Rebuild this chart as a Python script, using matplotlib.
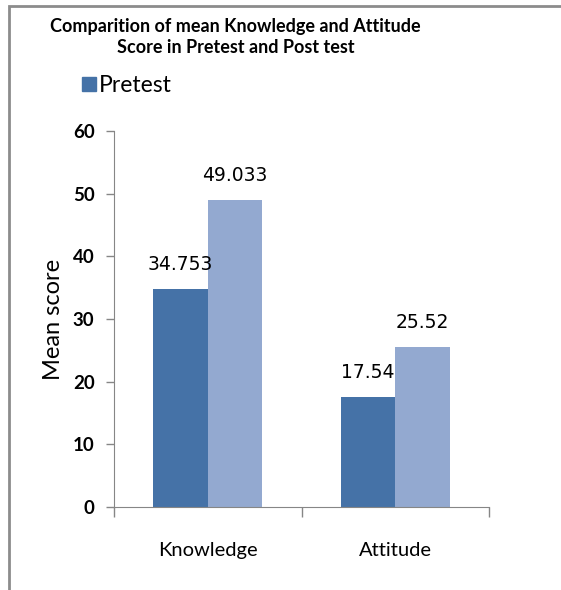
import numpy as np
import matplotlib.pyplot as plt
from matplotlib.patches import Rectangle

categories = ['Knowledge', 'Attitude']
pretest = [34.753, 17.54]
posttest = [49.033, 25.52]
pre_labels = ['34.753', '17.54']
post_labels = ['49.033', '25.52']

plt.rcParams['font.family'] = ['Lato', 'DejaVu Sans']

fig = plt.figure(figsize=(5.61, 5.90), dpi=100)
ax = fig.add_axes([0.2032, 0.1407, 0.6685, 0.637])

x = np.arange(len(categories))
w = 0.29
c_pre = '#4572A7'
c_post = '#93A9D0'
b1 = ax.bar(x - w/2, pretest, w, color=c_pre, label='Pretest')
b2 = ax.bar(x + w/2, posttest, w, color=c_post, label='Post test')

for i in range(len(categories)):
    ax.text(x[i] - w/2, pretest[i] + 2.4, pre_labels[i], ha='center', va='bottom',
            fontsize=13.5, family='DejaVu Sans')
    ax.text(x[i] + w/2, posttest[i] + 2.4, post_labels[i], ha='center', va='bottom',
            fontsize=13.5, family='DejaVu Sans')

ax.set_xlim(-0.5, 1.5)
ax.set_ylim(0, 60)
ax.set_yticks(np.arange(0, 61, 10))
ax.tick_params(axis='y', direction='out', length=6, width=1, color='#868686', labelsize=13.5, pad=8)
for t in ax.get_yticklabels():
    t.set_fontweight('bold')

ax.set_xticks([-0.5, 0.5, 1.5])
ax.set_xticklabels([])
ax.tick_params(axis='x', which='major', direction='out', length=7, width=1, color='#868686')
ax.set_xticks(x, minor=True)
ax.set_xticklabels(categories, minor=True)
ax.tick_params(axis='x', which='minor', length=0, labelsize=14.5, pad=25)

for s in ['top', 'right']:
    ax.spines[s].set_visible(False)
for s in ['left', 'bottom']:
    ax.spines[s].set_color('#868686')

ax.set_ylabel('Mean score', fontsize=17, labelpad=6)

fig.text(0.42, 0.955, 'Comparition of mean Knowledge and Attitude', ha='center', va='center',
         fontsize=13, fontweight='bold')
fig.text(0.42, 0.919, 'Score in Pretest and Post test', ha='center', va='center',
         fontsize=13, fontweight='bold')

# only the first entry shows in the original
fig.patches.append(Rectangle((82/561, 1 - 91/590), 14/561, 14/590, transform=fig.transFigure,
                             color=c_pre, figure=fig))
fig.text(99/561, 1 - 85/590, 'Pretest', ha='left', va='center', fontsize=16.5)

fig.patches.append(Rectangle((8.5/561, -0.1), 1.2, 1.1 - 5.5/590, transform=fig.transFigure,
                             fill=False, edgecolor='#8c8c8c', linewidth=2, figure=fig))

fig.savefig('out.png', dpi=100)
